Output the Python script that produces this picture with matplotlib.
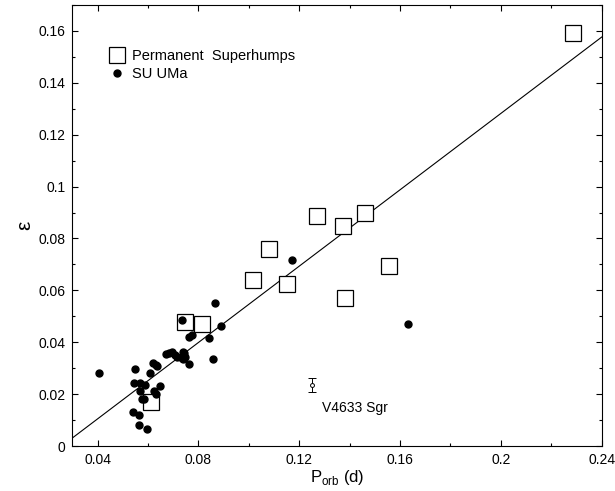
import matplotlib
matplotlib.use('Agg')
import matplotlib.pyplot as plt
from matplotlib.ticker import MultipleLocator, FuncFormatter
import numpy as np

plt.rcParams['font.family'] = ['Liberation Sans', 'DejaVu Sans']
plt.rcParams['mathtext.fontset'] = 'custom'
plt.rcParams['mathtext.rm'] = 'Liberation Sans'

# permanent superhumps (open squares)
ps_porb = [0.2285, 0.1272, 0.1375, 0.1462, 0.1081, 0.1018, 0.1150, 0.1557,
           0.1380, 0.0748, 0.0813, 0.0613]
ps_eps = [0.1593, 0.0888, 0.0849, 0.0900, 0.0761, 0.0641, 0.0625, 0.0694,
          0.0571, 0.0479, 0.0471, 0.0170]

# SU UMa stars (filled dots)
su_porb = [0.0407, 0.0549, 0.0545, 0.0569, 0.0588, 0.0569, 0.0575, 0.0584,
           0.0542, 0.0566, 0.0566, 0.0598, 0.0608, 0.0619, 0.0632, 0.0637,
           0.0624, 0.0632, 0.0648, 0.0672, 0.0685, 0.0694, 0.0707, 0.0714,
           0.0738, 0.0743, 0.0747, 0.0764, 0.0762, 0.0774, 0.0734, 0.0841,
           0.0857, 0.0866, 0.0889, 0.0741, 0.0734, 0.1170, 0.1630]
su_eps = [0.0283, 0.0296, 0.0242, 0.0244, 0.0236, 0.0214, 0.0181, 0.0180,
          0.0132, 0.0120, 0.0081, 0.0067, 0.0283, 0.0319, 0.0313, 0.0309,
          0.0214, 0.0201, 0.0232, 0.0355, 0.0360, 0.0364, 0.0351, 0.0342,
          0.0335, 0.0358, 0.0345, 0.0317, 0.0422, 0.0429, 0.0486, 0.0416,
          0.0337, 0.0553, 0.0463, 0.0364, 0.0339, 0.0717, 0.0470]

# V4633 Sgr with error bar
v_porb = 0.1250
v_eps = 0.0237
v_err = 0.0027

# linear fit eps = slope * (P - p0)
slope = 0.736
p0 = 0.0258

fig = plt.figure(figsize=(6.15, 4.91), dpi=100)
ax = fig.add_axes([0.1176, 0.0916, 0.8608, 0.8982])

xfit = np.array([0.03, 0.24])
ax.plot(xfit, slope * (xfit - p0), color='black', lw=0.8, zorder=1)

ax.plot(ps_porb, ps_eps, 's', mfc='white', mec='black', mew=0.9, ms=11.5,
        ls='none', label='Permanent  Superhumps', zorder=2)
ax.plot(su_porb, su_eps, 'o', color='black', ms=5, ls='none',
        label='SU UMa', zorder=3)

ax.errorbar([v_porb], [v_eps], yerr=[v_err], fmt='o', mfc='white', mec='black',
            ms=2.8, mew=0.7, ecolor='black', elinewidth=0.7, capsize=3,
            capthick=0.7, zorder=3)
ax.text(v_porb + 0.004, v_eps - 0.009, 'V4633 Sgr', fontsize=10,
        va='center', ha='left')

ax.set_xlim(0.03, 0.24)
ax.set_ylim(0, 0.17)
ax.xaxis.set_major_locator(MultipleLocator(0.04))
ax.xaxis.set_minor_locator(MultipleLocator(0.02))
ax.yaxis.set_major_locator(MultipleLocator(0.02))
ax.yaxis.set_minor_locator(MultipleLocator(0.01))
fmt = FuncFormatter(lambda v, p: '%g' % round(v, 4))
ax.xaxis.set_major_formatter(fmt)
ax.yaxis.set_major_formatter(fmt)
ax.tick_params(which='both', direction='in', top=True, right=True,
               labelsize=10, width=0.8)
ax.tick_params(which='major', length=4.5, pad=5)
ax.tick_params(which='minor', length=2.4)
for s in ax.spines.values():
    s.set_linewidth(0.8)

ax.set_xlabel(r'P$_{\rm orb}$ (d)', fontsize=12, labelpad=1)
ax.set_ylabel('ε', fontsize=15, labelpad=3)

ax.legend(loc='upper left', bbox_to_anchor=(0.068, 0.9), frameon=False,
          fontsize=10.5, handlelength=1.2, handletextpad=0.4,
          labelspacing=0.3, borderpad=0, borderaxespad=0)

fig.savefig('out.png', dpi=100)
